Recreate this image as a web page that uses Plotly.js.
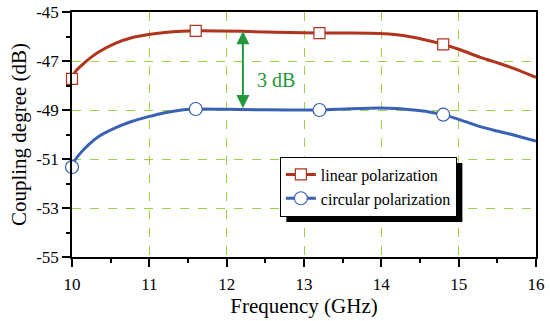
<!DOCTYPE html>
<html>
<head>
<meta charset="utf-8">
<script src="https://cdn.plot.ly/plotly-3.0.1.min.js"></script>
</head>
<body style="margin:0">
<div id="chart"></div>
<script>
// Curve samples (GHz, dB)
const linearX = [10, 10.04, 10.17, 10.25, 10.34, 10.56, 10.77, 10.99, 11.2, 11.42, 11.6, 12.2, 12.8, 13.2, 13.6, 13.98, 14.2, 14.41, 14.6, 14.8, 15.0, 15.28, 15.5, 15.71, 16];
const linearY = [-47.73, -47.45, -47.05, -46.84, -46.64, -46.28, -46.05, -45.92, -45.84, -45.79, -45.77, -45.79, -45.84, -45.86, -45.86, -45.88, -45.93, -46.03, -46.16, -46.32, -46.52, -46.85, -47.07, -47.3, -47.67];
const circularX = [10, 10.02, 10.12, 10.23, 10.34, 10.56, 10.77, 10.99, 11.2, 11.42, 11.6, 12.2, 12.8, 13.2, 13.6, 13.98, 14.2, 14.41, 14.6, 14.8, 15.0, 15.28, 15.5, 15.71, 16];
const circularY = [-51.33, -51.14, -50.72, -50.37, -50.09, -49.73, -49.47, -49.27, -49.11, -49.0, -48.96, -48.98, -49.0, -49.0, -48.95, -48.92, -48.94, -49.0, -49.07, -49.19, -49.38, -49.68, -49.86, -50.02, -50.27];
// Marker positions
const markerX = [10, 11.6, 13.2, 14.8];
const linearMarkY = [-47.73, -45.77, -45.86, -46.32];
const circularMarkY = [-51.33, -48.96, -49.0, -49.19];
// 3 dB gap annotation
const gapX = 12.21;
const gapTop = -45.79;
const gapBottom = -48.98;
const gapLabel = '3 dB';
const gapLabelX = 12.64;
const gapLabelY = -47.78;
// Axis ticks
const xTicks = [10, 11, 12, 13, 14, 15, 16];
const yTicks = [-45, -47, -49, -51, -53, -55];
const yTickText = ['-45', '-47', '-49', '-51', '-53', '-55'];

const RED = '#b0341e', BLUE = '#3a62b4', GREEN = '#22983a', GRID = '#9bd24a';
const SERIF = 'Liberation Serif';

const traces = [
  {x: linearX, y: linearY, mode: 'lines', line: {color: RED, width: 3, shape: 'spline', smoothing: 0.8}, showlegend: false, hoverinfo: 'skip'},
  {x: circularX, y: circularY, mode: 'lines', line: {color: BLUE, width: 3, shape: 'spline', smoothing: 0.8}, showlegend: false, hoverinfo: 'skip'},
  {x: markerX, y: linearMarkY, mode: 'markers', marker: {symbol: 'square', size: 11, color: '#fff', line: {color: RED, width: 1.2}}, showlegend: false, cliponaxis: false},
  {x: markerX, y: circularMarkY, mode: 'markers', marker: {symbol: 'circle', size: 13, color: '#fff', line: {color: BLUE, width: 1.2}}, showlegend: false, cliponaxis: false},
  {x: [null], y: [null], name: 'linear polarization', mode: 'lines+markers', line: {color: RED, width: 3}, marker: {symbol: 'square', size: 11, color: '#fff', line: {color: RED, width: 1.2}}},
  {x: [null], y: [null], name: 'circular polarization', mode: 'lines+markers', line: {color: BLUE, width: 3}, marker: {symbol: 'circle', size: 13, color: '#fff', line: {color: BLUE, width: 1.2}}}
];

function axisBase() {
  return {
    showline: true, mirror: true, linecolor: '#000', linewidth: 1.5,
    ticks: 'outside', ticklen: 8, tickwidth: 1.5, tickcolor: '#000',
    showgrid: true, gridcolor: GRID, griddash: 'dash', gridwidth: 1,
    zeroline: false,
    tickfont: {family: SERIF, size: 17, color: '#000'}
  };
}
const xa = axisBase();
xa.range = [10, 16];
xa.tickvals = xTicks;
xa.ticklabelstandoff = 3;
xa.minor = {dtick: 0.5, tick0: 10, ticks: 'outside', ticklen: 4, tickwidth: 1.5, tickcolor: '#000', showgrid: false};
xa.title = {text: 'Frequency (GHz)', font: {family: SERIF, size: 21, color: '#000'}, standoff: 4};
const ya = axisBase();
ya.range = [-55, -45];
ya.tickvals = yTicks;
ya.ticktext = yTickText;
ya.minor = {dtick: 1, tick0: -55, ticks: 'outside', ticklen: 4, tickwidth: 1.5, tickcolor: '#000', showgrid: false};
ya.title = {text: 'Coupling degree (dB)', font: {family: SERIF, size: 21, color: '#000'}, standoff: 4};

const layout = {
  width: 550, height: 321,
  margin: {l: 72, r: 14, t: 12, b: 64},
  paper_bgcolor: '#fff', plot_bgcolor: '#fff',
  xaxis: xa,
  yaxis: ya,
  legend: {
    x: 0.448, y: 0.41, xanchor: 'left', yanchor: 'top',
    bgcolor: '#fff', bordercolor: '#000', borderwidth: 1,
    font: {family: SERIF, size: 16, color: '#000'},
    tracegroupgap: 0
  },
  annotations: [
    {x: gapX, y: gapTop, ax: gapX, ay: gapBottom, axref: 'x', ayref: 'y', xref: 'x', yref: 'y', text: '', showarrow: true, arrowside: 'end+start', arrowhead: 2, arrowsize: 1.3, arrowwidth: 2, arrowcolor: GREEN, standoff: 0, startstandoff: 0},
    {x: gapLabelX, y: gapLabelY, xref: 'x', yref: 'y', text: gapLabel, showarrow: false, font: {family: SERIF, size: 20, color: GREEN}}
  ]
};

const gd = document.getElementById('chart');
Plotly.newPlot(gd, traces, layout, {displayModeBar: false}).then(function () {
  // drop shadow behind the legend box, placed from the legend's drawn size
  const bg = gd.querySelector('.legend .bg');
  const box = gd.getBoundingClientRect();
  const r = bg.getBoundingClientRect();
  const fs = gd._fullLayout._size;
  const off = 6;
  const toPX = function (px) { return (px - box.left - fs.l) / fs.w; };
  const toPY = function (py) { return 1 - (py - box.top - fs.t) / fs.h; };
  return Plotly.relayout(gd, {shapes: [{
    type: 'rect', xref: 'paper', yref: 'paper',
    x0: toPX(r.left + off), x1: toPX(r.right + off),
    y0: toPY(r.bottom + off), y1: toPY(r.top + off),
    fillcolor: '#000', line: {width: 0}, layer: 'above'
  }]});
});
</script>
</body>
</html>
